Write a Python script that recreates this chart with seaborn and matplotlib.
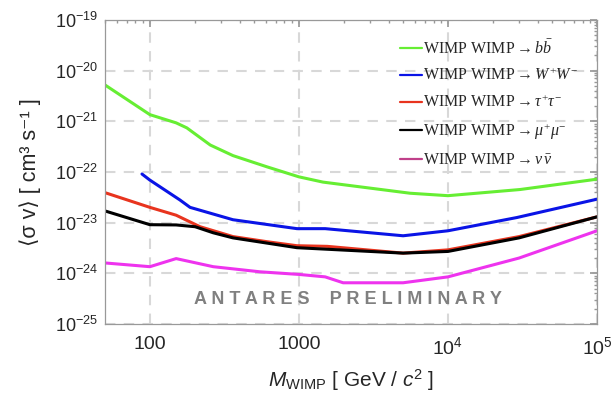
"""
ANTARES preliminary limits on <sigma v> for several WIMP annihilation channels.
"""

import matplotlib
matplotlib.use("Agg")
import matplotlib.pyplot as plt
import matplotlib.ticker as mticker
import seaborn as sns
import pandas as pd

sns.set_theme(style="white")
plt.rcParams["font.family"] = ["Liberation Sans", "DejaVu Sans"]
plt.rcParams["mathtext.fontset"] = "custom"
plt.rcParams["mathtext.rm"] = "Liberation Serif"
plt.rcParams["mathtext.it"] = "Liberation Serif:italic"
plt.rcParams["mathtext.sf"] = "Liberation Sans"
plt.rcParams["mathtext.cal"] = "Liberation Sans:italic"

# --- Daten ---
mass_bb = [50, 100, 150, 177, 254, 361, 611, 1000, 1450, 5570, 10000, 30500, 100000]
sv_bb = [5.2e-21, 1.35e-21, 9.3e-22, 7.4e-22, 3.4e-22, 2.1e-22, 1.26e-22, 8.0e-23,
         6.3e-23, 3.8e-23, 3.4e-23, 4.5e-23, 7.2e-23]

mass_ww = [88.5, 100, 159, 186, 361, 970, 1500, 5000, 10000, 29000, 100000]
sv_ww = [9.1e-23, 6.9e-23, 2.8e-23, 2.0e-23, 1.14e-23, 7.6e-24, 7.6e-24, 5.5e-24,
         6.9e-24, 1.26e-23, 2.9e-23]

mass_tt = [50, 100, 150, 217, 361, 611, 970, 1550, 5000, 10000, 30000, 100000]
sv_tt = [3.9e-23, 2.0e-23, 1.4e-23, 8.3e-24, 5.3e-24, 4.2e-24, 3.5e-24, 3.4e-24,
         2.5e-24, 2.9e-24, 5.3e-24, 1.3e-23]

mass_mm = [50, 100, 150, 201, 266, 361, 970, 5000, 10000, 30000, 100000]
sv_mm = [1.7e-23, 9.1e-24, 9.0e-24, 8.3e-24, 6.3e-24, 5.0e-24, 3.2e-24, 2.5e-24,
         2.7e-24, 5.0e-24, 1.3e-23]

mass_nn = [50, 100, 150, 266, 548, 1000, 1500, 1980, 5000, 10000, 30000, 100000]
sv_nn = [1.6e-24, 1.35e-24, 1.95e-24, 1.35e-24, 1.07e-24, 9.5e-25, 8.5e-25, 6.5e-25,
         6.5e-25, 8.5e-25, 2.0e-24, 6.9e-24]

CHANNELS = [
    (r"WIMP WIMP$\rightarrow b\bar{b}$", mass_bb, sv_bb),
    (r"WIMP WIMP$\rightarrow W^{+}W^{-}$", mass_ww, sv_ww),
    (r"WIMP WIMP$\rightarrow \tau^{+}\tau^{-}$", mass_tt, sv_tt),
    (r"WIMP WIMP$\rightarrow \mu^{+}\mu^{-}$", mass_mm, sv_mm),
    (r"WIMP WIMP$\rightarrow \nu\,\bar{\nu}$", mass_nn, sv_nn),
]
LINE_COLORS = ["#66ee33", "#0a14e6", "#e8341e", "#000000", "#ee33ee"]
LEGEND_COLORS = ["#66ee33", "#0a14e6", "#e8341e", "#000000", "#c0408a"]

rows = []
for label, m, sv in CHANNELS:
    for x, y in zip(m, sv):
        rows.append({"Masse": x, "sv": y, "Kanal": label})
df = pd.DataFrame(rows)

fig = plt.figure(figsize=(6.12, 3.98), dpi=100)
ax = fig.add_axes([0.1716, 0.186, 0.8039, 0.764])

sns.lineplot(
    data=df, x="Masse", y="sv", hue="Kanal",
    palette=dict(zip([c[0] for c in CHANNELS], LINE_COLORS)),
    linewidth=2.2, sort=False, estimator=None, ax=ax, legend=False,
)

ax.set_xscale("log")
ax.set_yscale("log")
ax.set_xlim(50, 1e5)
ax.set_ylim(1e-25, 1e-19)

ax.xaxis.set_major_locator(mticker.FixedLocator([100, 1000, 1e4, 1e5]))
ax.xaxis.set_major_formatter(mticker.FixedFormatter(
    ["100", "1000", r"$\mathdefault{10^{4}}$", r"$\mathdefault{10^{5}}$"]))
ax.xaxis.set_minor_locator(mticker.LogLocator(base=10, subs=range(2, 10), numticks=20))
ax.xaxis.set_minor_formatter(mticker.NullFormatter())
ax.yaxis.set_major_locator(mticker.LogLocator(base=10, numticks=20))
ax.yaxis.set_minor_locator(mticker.LogLocator(base=10, subs=range(2, 10), numticks=20))
ax.yaxis.set_minor_formatter(mticker.NullFormatter())

ax.tick_params(which="both", direction="in", top=True, right=True, color="#999999")
ax.tick_params(which="major", length=5, labelsize=14)
ax.tick_params(axis="y", which="major", labelsize=13, pad=5)
ax.tick_params(axis="x", which="major", pad=9)
ax.tick_params(which="minor", length=2.5)

for s in ax.spines.values():
    s.set_color("#999999")
    s.set_linewidth(0.9)

ax.grid(True, which="major", color="#d8d8d8", linestyle=(0, (5, 4)), linewidth=1.5)
ax.set_axisbelow(True)

ax.set_xlabel(r"$\mathcal{M}_{\mathsf{WIMP}}$ [ GeV / $\mathcal{c}^{\mathsf{2}}$ ]",
              fontsize=15, labelpad=7)
ax.set_ylabel("⟨σ v⟩ [ cm³ s⁻¹ ]", fontsize=15.5, labelpad=10)

ax.text(0.494, 0.079, "A N T A R E S    P R E L I M I N A R Y", transform=ax.transAxes,
        ha="center", va="center", fontsize=13, fontweight="bold", color="#808080")

handles = [plt.Line2D([], [], color=c, linewidth=1.6) for c in LEGEND_COLORS]
leg = ax.legend(
    handles, [c[0] for c in CHANNELS], loc="upper right", bbox_to_anchor=(0.99, 0.985),
    frameon=False, handlelength=1.4, handletextpad=0.05, labelspacing=0.64,
    prop={"family": "Liberation Serif", "size": 11.5},
)

plt.savefig("out.png", dpi=100)
plt.close()
